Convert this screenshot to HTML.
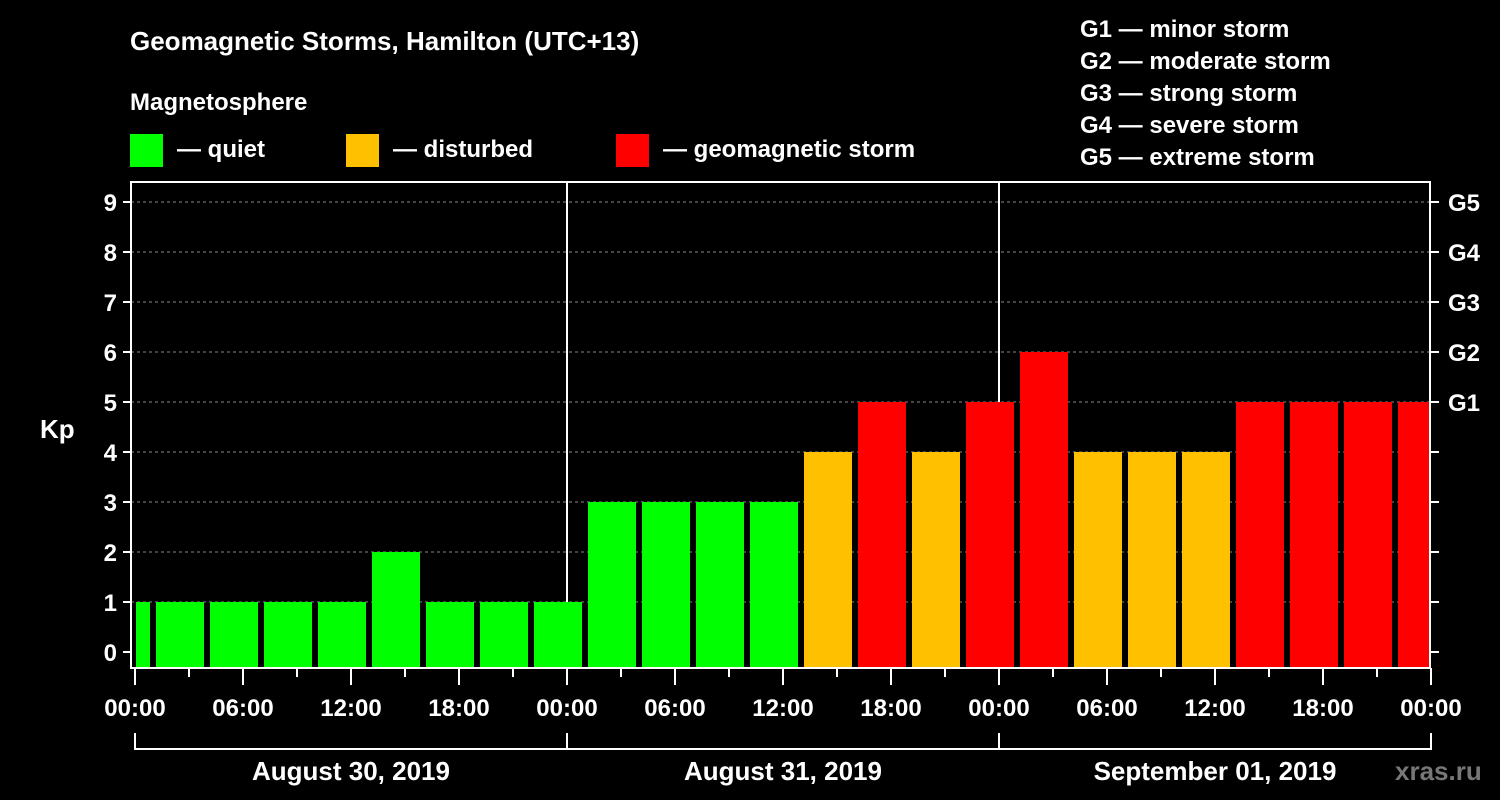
<!DOCTYPE html>
<html><head><meta charset="utf-8"><style>
html,body{margin:0;padding:0;background:#000;}
svg{display:block;font-family:"Liberation Sans",Arial,sans-serif;font-weight:bold;}
</style></head><body>
<svg id="chart" width="1500" height="800" viewBox="0 0 1500 800">
<text x="130" y="50" fill="#fff" font-size="26">Geomagnetic Storms, Hamilton (UTC+13)</text>
<text x="130" y="110" fill="#fff" font-size="24">Magnetosphere</text>
<g><rect x="130" y="134" width="33" height="33" fill="#00ff00"/><text x="177" y="157" fill="#fff" font-size="24">— quiet</text></g>
<g><rect x="346" y="134" width="33" height="33" fill="#ffc000"/><text x="393" y="157" fill="#fff" font-size="24">— disturbed</text></g>
<g><rect x="616" y="134" width="33" height="33" fill="#ff0000"/><text x="663" y="157" fill="#fff" font-size="24">— geomagnetic storm</text></g>
<g fill="#fff" font-size="24">
<text x="1080" y="37">G1 — minor storm</text>
<text x="1080" y="69">G2 — moderate storm</text>
<text x="1080" y="101">G3 — strong storm</text>
<text x="1080" y="133">G4 — severe storm</text>
<text x="1080" y="165">G5 — extreme storm</text>
</g>
<text x="40" y="438" fill="#fff" font-size="26">Kp</text>
<g id="grid"></g>
<g id="bars"></g>
<g id="axes"></g>
<text x="1395" y="780" fill="#777" font-size="26">xras.ru</text>
</svg>
<script>
const kpValues=[1,1,1,1,1,2,1,1,1,3,3,3,3,4,5,4,5,6,4,4,4,5,5,5,5];
const yTicks=[0,1,2,3,4,5,6,7,8,9];
const gLabels=["","","","","","G1","G2","G3","G4","G5"];
const xTickLabels=["00:00","06:00","12:00","18:00","00:00","06:00","12:00","18:00","00:00","06:00","12:00","18:00","00:00"];
const dayLabels=["August 30, 2019","August 31, 2019","September 01, 2019"];
const NS="http://www.w3.org/2000/svg";
const X0=135,PXH=18,L=131,R=1430,T=182,B=668;
const xs=h=>X0+h*PXH;
const ys=v=>652-v*50;
function mk(tag,attrs,parent){const e=document.createElementNS(NS,tag);for(const k in attrs)e.setAttribute(k,attrs[k]);parent.appendChild(e);return e;}
const grid=document.getElementById('grid'),bars=document.getElementById('bars'),axes=document.getElementById('axes');
yTicks.forEach(v=>{if(v>0){const l=mk('line',{x1:L,x2:R,y1:ys(v),y2:ys(v),stroke:'#888','stroke-dasharray':'3,3','stroke-width':1},grid);

}});
[1,2].forEach(d=>{const l=mk('line',{x1:xs(24*d),x2:xs(24*d),y1:T,y2:B,stroke:'#fff','stroke-width':2},grid);

});
kpValues.forEach((v,k)=>{const c=xs(3*k-0.5);let x1=Math.max(c-24,L+5),x2=Math.min(c+24,R);
const col=v>=5?'#ff0000':(v>=4?'#ffc000':'#00ff00');
const r=mk('rect',{x:x1,y:ys(v),width:x2-x1,height:B-1-ys(v),fill:col},bars);

});
const frame=mk('rect',{x:L,y:T,width:R-L,height:B-T,fill:'none',stroke:'#fff','stroke-width':2},axes);


yTicks.forEach((v,i)=>{mk('line',{x1:L-8,x2:L,y1:ys(v),y2:ys(v),stroke:'#fff','stroke-width':2},axes);
mk('line',{x1:R,x2:R+9,y1:ys(v),y2:ys(v),stroke:'#fff','stroke-width':2},axes);
const t=mk('text',{x:L-14,y:ys(v)+9,fill:'#fff','font-size':24,'text-anchor':'end'},axes);t.textContent=v;


if(gLabels[i]){const g=mk('text',{x:R+18,y:ys(v)+9,fill:'#fff','font-size':24},axes);g.textContent=gLabels[i];

}});
for(let h=0;h<=72;h+=3){mk('line',{x1:xs(h),x2:xs(h),y1:B,y2:h%6==0?B+17:B+9,stroke:'#fff','stroke-width':2},axes);}
xTickLabels.forEach((s,i)=>{const t=mk('text',{x:xs(6*i*1)+0,y:716,fill:'#fff','font-size':24,'text-anchor':'middle'},axes);t.textContent=s;

});
mk('line',{x1:xs(0),x2:xs(72),y1:749,y2:749,stroke:'#fff','stroke-width':2},axes);
for(let d=0;d<=3;d++)mk('line',{x1:xs(24*d),x2:xs(24*d),y1:733,y2:750,stroke:'#fff','stroke-width':2},axes);
dayLabels.forEach((s,d)=>{const t=mk('text',{x:xs(24*d+12),y:780,fill:'#fff','font-size':26,'text-anchor':'middle'},axes);t.textContent=s;

});
</script>
</body></html>
